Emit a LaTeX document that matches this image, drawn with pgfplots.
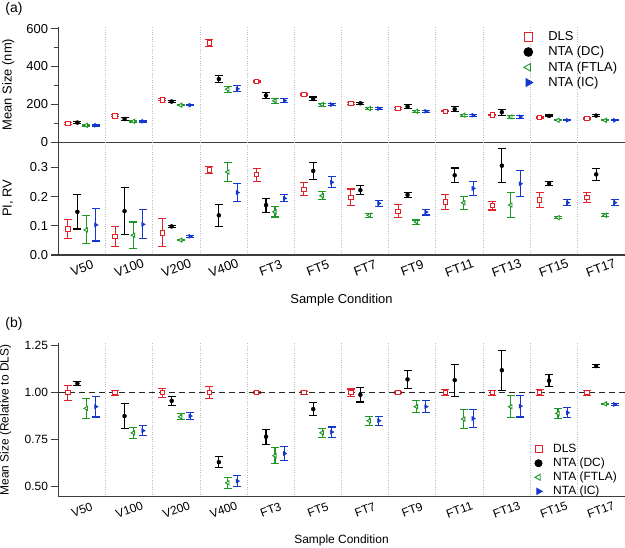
\documentclass[border=0pt]{standalone}
\usepackage{fontspec}
\setmainfont{Liberation Sans}
\usepackage{pgfplots}
\usepackage{pgfplotstable}
\pgfplotsset{compat=1.18}

\definecolor{cdls}{RGB}{228,32,40}
\definecolor{cdc}{RGB}{0,0,0}
\definecolor{cftla}{RGB}{30,150,40}
\definecolor{cic}{RGB}{20,55,205}
\definecolor{axgray}{RGB}{60,60,60}

% x size se pi pie rel rele
\pgfplotstableread{
x size se pi pie rel rele
0 99 4 0.089 0.032 1.00 0.039
1 140 5 0.063 0.035 1.00 0.014
2 224 5 0.076 0.048 1.00 0.024
3 524 18 0.291 0.012 1.00 0.032
4 322 4 0.275 0.022 1.00 0.005
5 251 4 0.225 0.022 1.00 0.007
6 206 5 0.197 0.029 1.00 0.020
7 178 4 0.150 0.023 1.00 0.005
8 164 3 0.181 0.025 1.00 0.015
9 145 3 0.169 0.015 1.00 0.013
10 131 3 0.189 0.026 1.00 0.015
11 125 3 0.197 0.018 1.00 0.013
}\tDLS
\pgfplotstableread{
x size se pi pie rel rele
0 104 5 0.148 0.059 1.050 0.012
1 123 10 0.150 0.081 0.876 0.066
2 215 5 0.098 0.003 0.957 0.024
3 334 17 0.136 0.038 0.631 0.030
4 247 14 0.171 0.024 0.766 0.039
5 229 10 0.288 0.029 0.913 0.035
6 206 6 0.222 0.015 0.989 0.038
7 189 10 0.206 0.008 1.071 0.048
8 175 14 0.273 0.025 1.067 0.085
9 159 16 0.306 0.059 1.120 0.106
10 139 5 0.245 0.008 1.064 0.033
11 141 4 0.276 0.020 1.142 0.009
}\tDC
\pgfplotstableread{
x size se pi pie rel rele
0 90 4 0.086 0.048 0.917 0.053
1 111 4 0.068 0.045 0.787 0.030
2 196 4 0.051 0.002 0.872 0.016
3 280 16 0.284 0.033 0.521 0.030
4 219 14 0.148 0.018 0.665 0.042
5 199 8 0.203 0.014 0.787 0.025
6 178 5 0.136 0.007 0.851 0.023
7 164 5 0.113 0.007 0.926 0.032
8 143 6 0.179 0.022 0.860 0.050
9 134 7 0.171 0.042 0.926 0.059
10 116 3 0.128 0.004 0.890 0.025
11 116 2 0.136 0.005 0.941 0.004
}\tFTLA
\pgfplotstableread{
x size se pi pie rel rele
0 90 4 0.103 0.055 0.926 0.055
1 111 4 0.105 0.050 0.798 0.027
2 196 4 0.064 0.003 0.876 0.020
3 282 16 0.214 0.030 0.530 0.028
4 220 12 0.194 0.012 0.677 0.036
5 199 7 0.249 0.019 0.791 0.027
6 178 5 0.177 0.011 0.851 0.024
7 164 5 0.147 0.010 0.926 0.031
8 143 6 0.228 0.024 0.863 0.049
9 134 7 0.244 0.044 0.929 0.058
10 116 3 0.179 0.010 0.894 0.027
11 116 2 0.179 0.010 0.938 0.004
}\tIC

\pgfplotsset{
  panel/.style={
    scale only axis, width=566bp,
    xmin=-0.5, xmax=11.5,
    axis x line*=bottom, axis y line*=left,
    axis line style={axgray, line width=1.5bp},
    tick align=outside,
    xtick={0,...,11},
    xticklabels={V50,V100,V200,V400,FT3,FT5,FT7,FT9,FT11,FT13,FT15,FT17},
    x tick style={draw=none},
    minor xtick={0.5,1.5,2.5,3.5,4.5,5.5,6.5,7.5,8.5,9.5,10.5},
    xminorgrids=true,
    minor x grid style={black!25, dotted, line width=0.7bp},
    y tick style={axgray, line width=1.1bp},
    major tick length=7bp, minor tick length=4bp,
    clip=false,
  },
  serr/.style={error bars/.cd, y dir=both, y explicit,
    error bar style={line width=1.1bp},
    error mark options={rotate=90, mark size=4bp, line width=1.1bp}},
  limg/.style={legend image code/.code={\path (-5bp,0bp) (5bp,0bp); \draw[##1] plot coordinates {(0bp,0bp)};}},
  sdls/.style={only marks, color=cdls, mark=square*, mark size=2.2bp, mark options={fill=white, line width=0.9bp, solid}, limg, serr},
  sdc/.style={only marks, color=cdc, mark=*, mark size=2bp, mark options={solid}, limg, serr},
  sftla/.style={only marks, color=cftla, mark=triangle*, mark size=2.4bp, mark options={rotate=90, fill=white, line width=0.9bp, solid}, limg, serr},
  sic/.style={only marks, color=cic, mark=triangle*, mark size=2.4bp, mark options={rotate=-90, solid}, limg, serr},
}

\begin{document}
\begin{tikzpicture}
\path[use as bounding box] (0bp,0bp) rectangle (625bp,-548bp);

% ---------- top panel ----------
\begin{axis}[panel, at={(58.5bp,-142.3bp)}, anchor=south west, height=115.6bp,
  ymin=0, ymax=610, ytick={0,200,400,600}, minor ytick={100,300,500},
  xticklabels={},
  tick label style={font=\fontsize{13}{13}\selectfont},
  yticklabel style={/pgf/number format/assume math mode=true},
  ylabel={Mean Size (nm)},
  ylabel style={at={(axis description cs:-0.083,0.5)}, anchor=base, font=\fontsize{13}{13}\selectfont},
  legend style={at={(axis description cs:0.820,0.972)}, anchor=north west, draw=none, fill=none,
    font=\fontsize{13}{13}\selectfont, inner sep=0pt, row sep=1.4bp, column sep=13bp,
    nodes={inner sep=1.5bp}},
  legend cell align=left,
  legend image post style={mark size=4.3bp, line width=1bp},
]
\addplot[sdls] table[x expr=\thisrow{x}-0.3, y=size, y error=se]{\tDLS};
\addplot[sdc] table[x expr=\thisrow{x}-0.1, y=size, y error=se]{\tDC};
\addplot[sftla] table[x expr=\thisrow{x}+0.09, y=size, y error=se]{\tFTLA};
\addplot[sic] table[x expr=\thisrow{x}+0.29, y=size, y error=se]{\tIC};
\legend{DLS, NTA (DC), NTA (FTLA), NTA (IC)}
\end{axis}

% ---------- middle panel ----------
\begin{axis}[panel, at={(58.5bp,-255bp)}, anchor=south west, height=113.3bp,
  ymin=0, ymax=0.388, ytick={0,0.1,0.2,0.3},
  tick label style={font=\fontsize{13}{13}\selectfont},
  yticklabel style={/pgf/number format/.cd, fixed, fixed zerofill, precision=1, assume math mode=true},
  xticklabel style={anchor=center, yshift=-6bp, rotate=20},
  ylabel={PI, RV},
  ylabel style={at={(axis description cs:-0.083,0.5)}, anchor=base, font=\fontsize{13}{13}\selectfont},
  xlabel={Sample Condition},
  xlabel style={at={(axis description cs:0.5,0)}, anchor=base, yshift=-48bp, font=\fontsize{13}{13}\selectfont},
]
\addplot[sdls] table[x expr=\thisrow{x}-0.3, y=pi, y error=pie]{\tDLS};
\addplot[sdc] table[x expr=\thisrow{x}-0.1, y=pi, y error=pie]{\tDC};
\addplot[sftla] table[x expr=\thisrow{x}+0.09, y=pi, y error=pie]{\tFTLA};
\addplot[sic] table[x expr=\thisrow{x}+0.29, y=pi, y error=pie]{\tIC};
\end{axis}

% ---------- bottom panel ----------
\begin{axis}[panel, at={(58.5bp,-496.7bp)}, anchor=south west, height=153.4bp,
  ymin=0.447, ymax=1.263, ytick={0.5,0.75,1,1.25},
  tick label style={font=\fontsize{12}{12}\selectfont},
  yticklabel style={/pgf/number format/.cd, fixed, fixed zerofill, precision=2, assume math mode=true},
  xticklabel style={anchor=center, yshift=-6bp, rotate=20},
  ylabel={Mean Size (Relative to DLS)},
  ylabel style={at={(axis description cs:-0.088,0.5)}, anchor=base, font=\fontsize{12}{12}\selectfont},
  xlabel={Sample Condition},
  xlabel style={at={(axis description cs:0.5,0)}, anchor=base, yshift=-47bp, font=\fontsize{12}{12}\selectfont},
  legend style={at={(axis description cs:0.838,0.350)}, anchor=north west, draw=none, fill=none,
    font=\fontsize{12}{12}\selectfont, inner sep=0pt, row sep=1.5bp, column sep=8bp,
    nodes={inner sep=1.2bp}},
  legend cell align=left,
  legend image post style={mark size=3.5bp, line width=1bp},
]
\addplot[black!85, line width=1.2bp, dash pattern=on 6bp off 4bp, forget plot] coordinates {(-0.5,1) (11.5,1)};
\addplot[sdls] table[x expr=\thisrow{x}-0.3, y=rel, y error=rele]{\tDLS};
\addplot[sdc] table[x expr=\thisrow{x}-0.1, y=rel, y error=rele]{\tDC};
\addplot[sftla] table[x expr=\thisrow{x}+0.09, y=rel, y error=rele]{\tFTLA};
\addplot[sic] table[x expr=\thisrow{x}+0.29, y=rel, y error=rele]{\tIC};
\legend{DLS, NTA (DC), NTA (FTLA), NTA (IC)}
\end{axis}

\node[font=\fontsize{14}{14}\selectfont] at (14bp,-9bp) {(a)};
\node[font=\fontsize{14}{14}\selectfont] at (14bp,-324bp) {(b)};
\end{tikzpicture}
\end{document}
